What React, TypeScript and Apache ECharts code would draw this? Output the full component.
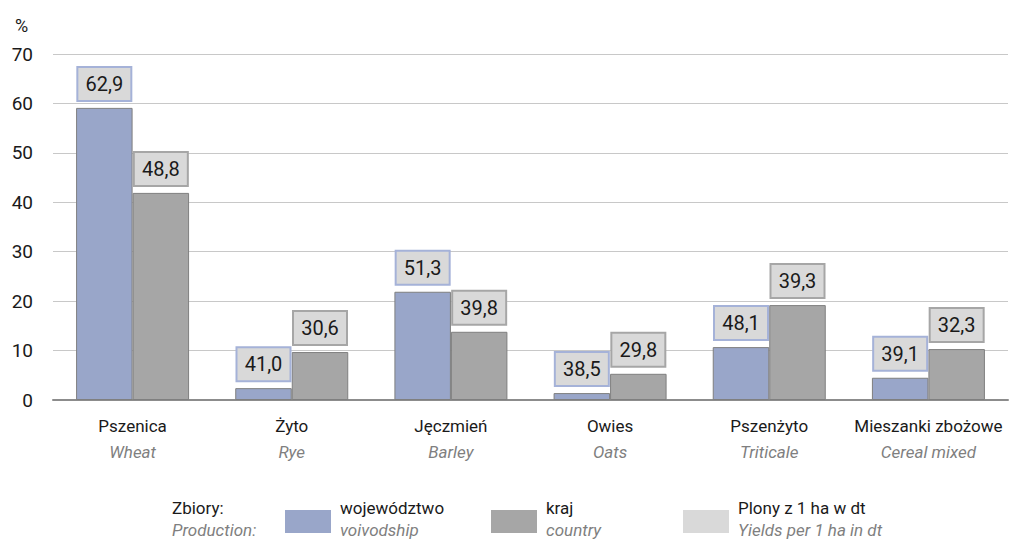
import React, { useEffect, useRef } from "react";
import * as echarts from "echarts";

const categoriesPl = ["Pszenica", "Żyto", "Jęczmień", "Owies", "Pszenżyto", "Mieszanki zbożowe"];
const categoriesEn = ["Wheat", "Rye", "Barley", "Oats", "Triticale", "Cereal mixed"];
const productionVoivodship = [59.1, 2.4, 21.9, 1.4, 10.7, 4.5];
const productionCountry = [41.9, 9.7, 13.8, 5.3, 19.2, 10.3];
const yieldsVoivodship = [62.9, 41.0, 51.3, 38.5, 48.1, 39.1];
const yieldsCountry = [48.8, 30.6, 39.8, 29.8, 39.3, 32.3];
const yTicks = [0, 10, 20, 30, 40, 50, 60, 70];

const FONT = "Roboto";
const BLUE = "#99a6c9";
const GRAY = "#a6a6a6";
const LIGHT = "#d9d9d9";

const fmt = (v: number) => v.toFixed(1).replace(".", ",");

export default function App() {
  const ref = useRef<HTMLDivElement>(null);
  useEffect(() => {
    if (!ref.current) return;
    const chart = echarts.init(ref.current, null, { renderer: "svg" });
    const labelBase = (yields: number[], border: string) => ({
      show: true,
      position: "top" as const,
      distance: 8,
      formatter: (p: any) => fmt(yields[p.dataIndex]),
      fontFamily: FONT,
      fontSize: 20,
      color: "#1a1a1a",
      backgroundColor: LIGHT,
      borderColor: border,
      borderWidth: 2,
      width: 38,
      height: 22,
      lineHeight: 22,
      align: "center" as const,
      padding: [5, 7, 5, 7],
    });
    const legendItems = [
      { x: 285, color: BLUE, pl: "województwo", en: "voivodship" },
      { x: 491, color: GRAY, pl: "kraj", en: "country" },
      { x: 683, color: LIGHT, pl: "Plony z 1 ha w dt", en: "Yields per 1 ha in dt" },
    ];
    const graphic: any[] = [
      { type: "text", x: 15, y: 25, style: { text: "%", fontFamily: FONT, fontSize: 18, fill: "#1a1a1a", verticalAlign: "middle" } },
      { type: "text", x: 172, y: 508, style: { text: "Zbiory:", fontFamily: FONT, fontSize: 17, fill: "#1a1a1a", verticalAlign: "middle" } },
      { type: "text", x: 172, y: 530, style: { text: "Production:", fontFamily: FONT, fontSize: 17, fontStyle: "italic", fill: "#7f7f7f", verticalAlign: "middle" } },
    ];
    legendItems.forEach((it) => {
      graphic.push({ type: "rect", shape: { x: it.x, y: 510, width: 46, height: 23 }, style: { fill: it.color } });
      graphic.push({ type: "text", x: it.x + 55, y: 508, style: { text: it.pl, fontFamily: FONT, fontSize: 17, fill: "#1a1a1a", verticalAlign: "middle" } });
      graphic.push({ type: "text", x: it.x + 55, y: 530, style: { text: it.en, fontFamily: FONT, fontSize: 17, fontStyle: "italic", fill: "#7f7f7f", verticalAlign: "middle" } });
    });
    chart.setOption({
      animation: false,
      grid: { left: 53, right: 5, top: 54, bottom: 141, containLabel: false },
      xAxis: {
        type: "category",
        data: categoriesPl.map((c, i) => `{a|${c}}\n{b|${categoriesEn[i]}}`),
        axisLine: { lineStyle: { color: "#8c8c8c", width: 2 } },
        axisTick: { show: false },
        axisLabel: {
          margin: 13,
          interval: 0,
          rich: {
            a: { fontFamily: FONT, fontSize: 17, color: "#1a1a1a", lineHeight: 26 },
            b: { fontFamily: FONT, fontSize: 17, fontStyle: "italic", color: "#7f7f7f", lineHeight: 26 },
          },
        },
      },
      yAxis: {
        type: "value",
        min: yTicks[0],
        max: yTicks[yTicks.length - 1],
        interval: 10,
        axisLine: { show: false },
        axisTick: { show: false },
        axisLabel: { fontFamily: FONT, fontSize: 19, color: "#1a1a1a", margin: 20 },
        splitLine: { lineStyle: { color: "#c8c8c8", width: 1 } },
      },
      series: [
        {
          type: "bar",
          name: "województwo",
          data: productionVoivodship,
          barGap: "0%",
          barCategoryGap: "29%",
          itemStyle: { color: BLUE, borderColor: "#7f7f7f", borderWidth: 1 },
          label: labelBase(yieldsVoivodship, "#a5b2d8"),
        },
        {
          type: "bar",
          name: "kraj",
          data: productionCountry,
          itemStyle: { color: GRAY, borderColor: "#7f7f7f", borderWidth: 1 },
          label: labelBase(yieldsCountry, "#a6a6a6"),
        },
      ],
      graphic,
    });
    return () => chart.dispose();
  }, []);
  return <div ref={ref} style={{ width: 1013, height: 541, position: "absolute", left: 0, top: 0 }} />;
}
